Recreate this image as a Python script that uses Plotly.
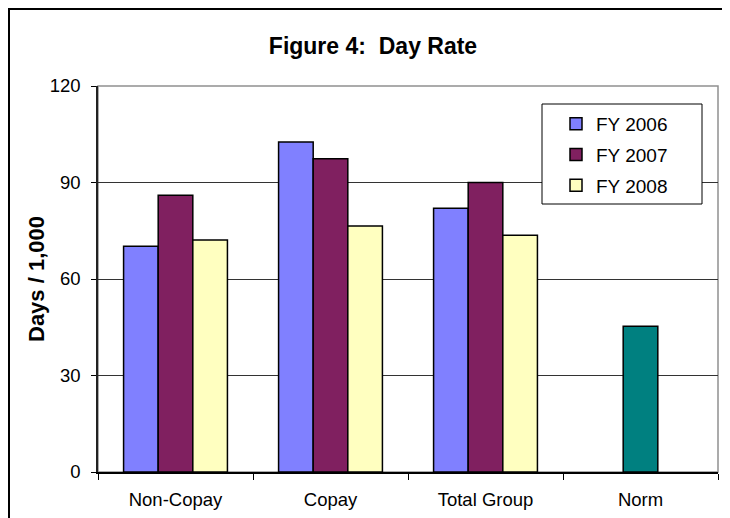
import plotly.graph_objects as go

categories = ["Non-Copay", "Copay", "Total Group", "Norm"]
group_categories = ["Non-Copay", "Copay", "Total Group"]
fy2006 = [70.2, 102.6, 82.0]
fy2007 = [86.0, 97.4, 90.0]
fy2008 = [72.1, 76.5, 73.6]
norm_value = [45.3]
series_names = ["FY 2006", "FY 2007", "FY 2008"]
series_colors = ["#8080FF", "#802060", "#FFFFC0"]
norm_color = "#008080"
y_ticks = [0, 30, 60, 90, 120]

# page body has an 8px margin; figure coordinates = reference coordinates - 8
OFF = 8
W, H = 730 - OFF, 518 - OFF
PLOT_L, PLOT_R, PLOT_T, PLOT_B = 98 - OFF, 718 - OFF, 86 - OFF, 472 - OFF
ML, MR, MT, MB = PLOT_L, W - PLOT_R, PLOT_T, H - PLOT_B
PW, PH = PLOT_R - PLOT_L, PLOT_B - PLOT_T


def px(x):
    return (x - OFF - PLOT_L) / PW


def py(y):
    return (PLOT_B - (y - OFF)) / PH


fig = go.Figure()
for i, (name, vals, col) in enumerate(zip(series_names, [fy2006, fy2007, fy2008], series_colors)):
    fig.add_trace(go.Bar(
        x=group_categories, y=vals, name=name,
        marker=dict(color=col, line=dict(color="black", width=1.5)),
        offsetgroup=str(i + 1), legendgroup=name,
    ))
fig.add_trace(go.Bar(
    x=["Norm"], y=norm_value, name="Norm",
    marker=dict(color=norm_color, line=dict(color="black", width=1.5)),
    offsetgroup="2", showlegend=False,
))

font = "Arial, Liberation Sans, Helvetica, sans-serif"

fig.update_layout(
    width=W, height=H, autosize=False,
    margin=dict(l=ML, r=MR, t=MT, b=MB, autoexpand=False),
    paper_bgcolor="white", plot_bgcolor="white",
    barmode="group", bargap=0.33, bargroupgap=0,
    font=dict(family=font, color="black", size=18.5),
    title=dict(text="<b>Figure 4:  Day Rate</b>", font=dict(size=23, family=font, color="black"),
               x=px(373), xref="paper", xanchor="center",
               y=1 - (46 - OFF) / H, yref="container", yanchor="middle", automargin=False),
    xaxis=dict(
        type="category", categoryorder="array", categoryarray=categories, automargin=False,
        range=[-0.5, 3.5], showgrid=False, showline=True, linecolor="black", linewidth=1.5,
        ticks="outside", tickson="boundaries", ticklen=6, tickcolor="black", tickwidth=1,
        ticklabelstandoff=10, tickfont=dict(size=18.5), zeroline=False,
    ),
    yaxis=dict(
        range=[0, 120], tickvals=y_ticks, showgrid=True, gridcolor="#333333", gridwidth=1,
        showline=True, linecolor="#222222", linewidth=1.5, zeroline=False, automargin=False,
        ticks="outside", ticklen=5, tickcolor="black", ticklabelstandoff=7,
        tickfont=dict(size=18.5),
    ),
    legend=dict(
        x=px(556), y=py(105), xanchor="left", yanchor="top",
        bgcolor="rgba(0,0,0,0)", borderwidth=0, font=dict(size=19, family=font),
        tracegroupgap=3,
    ),
    showlegend=True,
)

# Plot-area border (gray), legend box, outer chart frame
fig.add_shape(type="rect", xref="paper", yref="paper", x0=0, x1=1, y0=0, y1=1,
              line=dict(color="#909090", width=1.5), fillcolor="rgba(0,0,0,0)", layer="below")
fig.add_shape(type="rect", xref="paper", yref="paper",
              x0=px(542), x1=px(702), y0=py(204), y1=py(104),
              line=dict(color="black", width=1), fillcolor="white", layer="above")
fig.add_shape(type="rect", xref="paper", yref="paper",
              x0=px(OFF + 1), x1=px(760), y0=py(560), y1=py(OFF + 1),
              line=dict(color="black", width=2), fillcolor="rgba(0,0,0,0)", layer="above")

fig.add_annotation(text="<b>Days / 1,000</b>", textangle=-90, xref="paper", yref="paper",
                   x=px(36), y=py(279), xanchor="center", yanchor="middle", showarrow=False,
                   font=dict(size=22, family=font, color="black"))

fig.write_html("out.html")
